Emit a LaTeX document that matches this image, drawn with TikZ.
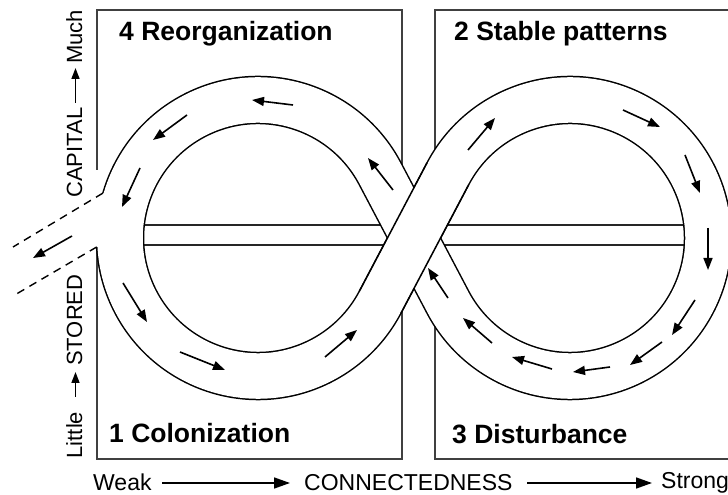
\documentclass[tikz,border=0pt]{standalone}
\usepackage{fontspec}
\setmainfont{Liberation Sans}
\usetikzlibrary{arrows.meta}
\begin{document}
\begin{tikzpicture}[x=1pt,y=1pt,
  frame/.style={draw=black!75, line width=1.8pt},
  bar/.style={draw=black!85, line width=1.4pt},
  band/.style={line width=1.5pt, double=white, double distance=45.5pt},
  edge/.style={line width=1.5pt},
  flow/.style={line width=1.6pt, -{Triangle[length=12pt,width=9pt]}},
  axisarrow/.style={line width=1.6pt, -{Triangle[length=16pt,width=11pt]}},
  vaxis/.style={line width=1.6pt, -{Triangle[length=11pt,width=8pt]}},
  ttl/.style={font=\fontsize{26.5}{30}\selectfont\bfseries, inner sep=0pt, anchor=base west},
  lbl/.style={font=\fontsize{22}{26}\selectfont, inner sep=0pt, anchor=base west},
  hlbl/.style={font=\fontsize{23}{26}\selectfont, inner sep=0pt, anchor=base west},
  exitline/.style={line width=1.4pt, dash pattern=on 8pt off 6pt}
]
\useasboundingbox (0,0) rectangle (728,495);

% frames
\draw[frame] (97,325) -- (97,485) -- (402,485) -- (402,36) -- (97,36) -- (97,248);
\draw[frame] (735,485) -- (435,485) -- (435,36) -- (735,36);

% horizontal bars
\draw[bar] (115,270) -- (712,270);
\draw[bar] (115,250) -- (712,250);

% figure-eight band
\coordinate (P) at (414,257);
\coordinate (T1) at (380.08,321.36);
\coordinate (T2) at (380.08,192.64);
\coordinate (T3) at (447.92,321.36);
\coordinate (T4) at (447.92,192.64);
\draw[band] (P) -- (T3) arc[start angle=152.20, end angle=-152.20, radius=138]
   -- (T1) arc[start angle=27.80, end angle=332.20, radius=138] -- (P);
% upper strand of the crossing
\draw[white, line width=45.5pt] (T2) -- (T3);
\coordinate (A1) at (359.29,203.60);
\coordinate (A2) at (427.13,332.32);
\coordinate (B1) at (400.87,181.68);
\coordinate (B2) at (468.71,310.40);
\draw[edge] (A1) -- (A2);
\draw[edge] (B1) -- (B2);

% exit gap on the left
\fill[white] (113.91,298.67) arc[start angle=163.87, end angle=183.18, radius=150]
   -- (86.27,247.46) arc[start angle=183.18, end angle=163.87, radius=172] -- cycle;
\coordinate (K1) at (102.87,301.87);
\coordinate (K2) at (96.75,248.04);
\coordinate (E1) at (13,248);
\coordinate (E2) at (13,199);
\draw[exitline] (K1) -- (E1);
\draw[exitline] (K2) -- (E2);

% flow arrows
\draw[flow] (293,390) -- (252,395);
\draw[flow] (187,380) -- (153,355);
\draw[flow] (140,327) -- (122,288);
\draw[flow] (72,259) -- (33,237);
\draw[flow] (123,212) -- (147,173);
\draw[flow] (180,143) -- (225,125);
\draw[flow] (325,138) -- (357,165);
\draw[flow] (393,305) -- (368,337);
\draw[flow] (468,345) -- (495,377);
\draw[flow] (623,385) -- (660,368);
\draw[flow] (685,340) -- (700,302);
\draw[flow] (708,267) -- (708,225);
\draw[flow] (695,195) -- (672,160);
\draw[flow] (662,153) -- (630,130);
\draw[flow] (610,128) -- (573,123);
\draw[flow] (552,126) -- (512,138);
\draw[flow] (492,152) -- (463,177);
\draw[flow] (448,197) -- (428,227);

% titles
\node[ttl] (t4) at (119,454.5) {4 Reorganization};
\node[ttl] (t2) at (454,454.5) {2 Stable patterns};
\node[ttl] (t1) at (109,52) {1 Colonization};
\node[ttl] (t3) at (452,51) {3 Disturbance};

% horizontal axis
\node[hlbl] (weak) at (93,4.5) {Weak};
\node[hlbl] (conn) at (304,4) {CONNECTEDNESS};
\node[hlbl] (strong) at (661,6.5) {Strong};
\coordinate (h1) at (162,12);
\coordinate (h2) at (290,12);
\coordinate (h3) at (527,12);
\coordinate (h4) at (652,12);
\draw[axisarrow] (h1) -- (h2);
\draw[axisarrow] (h3) -- (h4);

% vertical axis
\node[lbl, rotate=90] (little) at (82,36.5) {Little};
\node[lbl, rotate=90] (stored) at (82,129) {STORED};
\node[lbl, rotate=90] (capital) at (82,297) {CAPITAL};
\node[lbl, rotate=90] (much) at (82,431) {Much};
\coordinate (v1) at (75.5,98);
\coordinate (v2) at (75.5,123);
\coordinate (v3) at (75.5,392);
\coordinate (v4) at (75.5,427);
\draw[vaxis] (v1) -- (v2);
\draw[vaxis] (v3) -- (v4);
\end{tikzpicture}
\end{document}
